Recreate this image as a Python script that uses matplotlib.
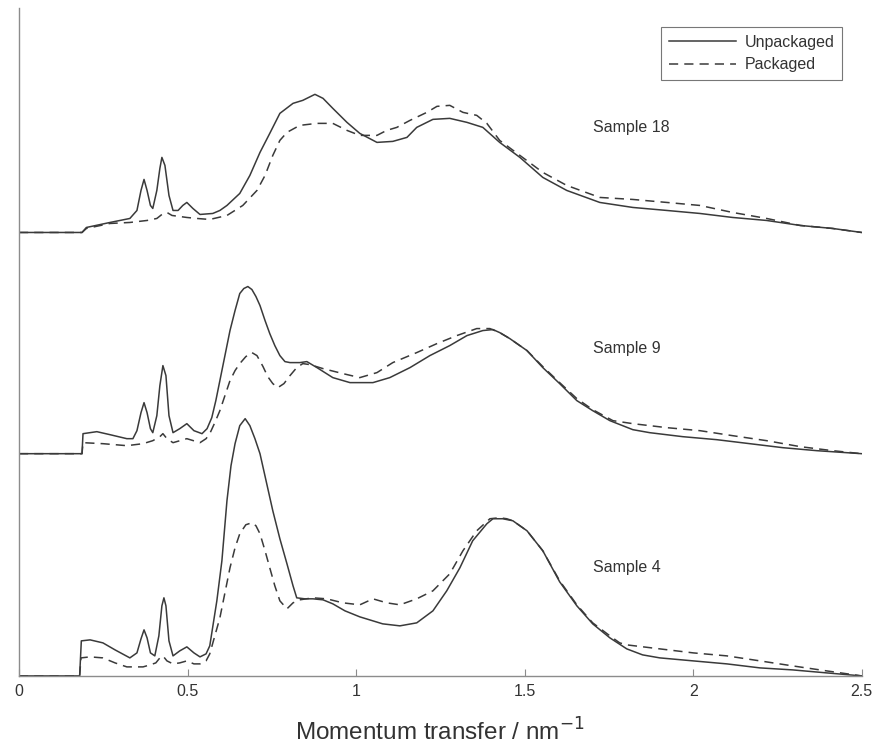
import matplotlib
matplotlib.use("Agg")
import matplotlib.pyplot as plt

plt.rcParams['font.family'] = ['Liberation Sans', 'DejaVu Sans']

# momentum transfer (nm^-1) and scattered intensity (a.u.) for each sample
s4_x_unpack = [0, 0.18, 0.185, 0.211, 0.249, 0.285, 0.329, 0.35, 0.362, 0.371, 0.38, 0.39, 0.403,
               0.415, 0.424, 0.43, 0.436, 0.445, 0.457, 0.477, 0.498, 0.519, 0.537, 0.555, 0.566,
               0.587, 0.602, 0.617, 0.629, 0.641, 0.655, 0.671, 0.685, 0.70, 0.715, 0.733, 0.753,
               0.774, 0.795, 0.813, 0.824, 0.848, 0.872, 0.902, 0.931, 0.967, 1.011, 1.079, 1.13,
               1.18, 1.228, 1.269, 1.308, 1.346, 1.388, 1.406, 1.435, 1.465, 1.507, 1.554, 1.604,
               1.655, 1.702, 1.753, 1.803, 1.85, 1.901, 2.0, 2.10, 2.198, 2.295, 2.396, 2.5]
s4_y_unpack = [0, 0, 0.35, 0.36, 0.33, 0.26, 0.18, 0.23, 0.37, 0.46, 0.38, 0.23, 0.20,
               0.40, 0.70, 0.78, 0.70, 0.35, 0.20, 0.25, 0.29, 0.23, 0.19, 0.22, 0.30,
               0.75, 1.15, 1.75, 2.10, 2.32, 2.50, 2.57, 2.50, 2.37, 2.22, 1.95, 1.65,
               1.37, 1.12, 0.90, 0.78, 0.77, 0.77, 0.76, 0.72, 0.65, 0.59, 0.52, 0.50,
               0.53, 0.65, 0.85, 1.08, 1.35, 1.52, 1.57, 1.57, 1.55, 1.45, 1.25, 0.94,
               0.70, 0.52, 0.38, 0.27, 0.21, 0.18, 0.15, 0.12, 0.08, 0.06, 0.03, 0]
s4_x_pack = [0, 0.18, 0.184, 0.211, 0.249, 0.285, 0.32, 0.368, 0.389, 0.406, 0.418, 0.427, 0.439,
             0.457, 0.477, 0.498, 0.519, 0.537, 0.555, 0.566, 0.581, 0.596, 0.611, 0.626, 0.641,
             0.655, 0.673, 0.691, 0.703, 0.715, 0.730, 0.744, 0.759, 0.774, 0.795, 0.813, 0.833,
             0.872, 0.913, 0.961, 1.011, 1.05, 1.091, 1.13, 1.18, 1.228, 1.278, 1.317, 1.358,
             1.397, 1.426, 1.447, 1.465, 1.507, 1.554, 1.604, 1.655, 1.702, 1.753, 1.782, 1.803,
             1.901, 2.0, 2.10, 2.198, 2.295, 2.396, 2.5]
s4_y_pack = [0, 0, 0.18, 0.19, 0.18, 0.13, 0.09, 0.09, 0.11, 0.13, 0.18, 0.20, 0.15,
             0.12, 0.13, 0.15, 0.12, 0.12, 0.15, 0.22, 0.40, 0.58, 0.83, 1.08, 1.28,
             1.42, 1.51, 1.53, 1.50, 1.42, 1.25, 1.08, 0.90, 0.75, 0.67, 0.73, 0.76,
             0.78, 0.77, 0.73, 0.71, 0.77, 0.73, 0.71, 0.77, 0.85, 1.02, 1.25, 1.45,
             1.57, 1.58, 1.57, 1.55, 1.45, 1.25, 0.95, 0.71, 0.53, 0.40, 0.33, 0.31,
             0.27, 0.23, 0.20, 0.15, 0.10, 0.05, 0]

s9_x_unpack = [0, 0.18, 0.187, 0.19, 0.231, 0.27, 0.32, 0.338, 0.35, 0.362, 0.371, 0.38, 0.39,
               0.397, 0.409, 0.418, 0.427, 0.436, 0.445, 0.457, 0.477, 0.498, 0.519, 0.543, 0.558,
               0.572, 0.584, 0.596, 0.611, 0.626, 0.641, 0.655, 0.667, 0.679, 0.691, 0.703, 0.715,
               0.730, 0.744, 0.759, 0.774, 0.789, 0.804, 0.833, 0.854, 0.884, 0.931, 0.982, 1.05,
               1.10, 1.16, 1.219, 1.278, 1.329, 1.376, 1.406, 1.426, 1.456, 1.507, 1.554, 1.604,
               1.655, 1.702, 1.753, 1.821, 1.871, 1.969, 2.07, 2.168, 2.266, 2.367, 2.5]
s9_y_unpack = [0, 0, 0, 0.20, 0.22, 0.19, 0.15, 0.15, 0.23, 0.41, 0.51, 0.41, 0.25,
               0.21, 0.38, 0.68, 0.88, 0.78, 0.38, 0.21, 0.25, 0.30, 0.23, 0.20, 0.25,
               0.36, 0.53, 0.73, 0.98, 1.23, 1.43, 1.60, 1.65, 1.67, 1.64, 1.57, 1.48,
               1.33, 1.20, 1.08, 0.98, 0.92, 0.91, 0.91, 0.92, 0.86, 0.76, 0.71, 0.71,
               0.76, 0.86, 0.98, 1.08, 1.18, 1.23, 1.24, 1.21, 1.15, 1.03, 0.86, 0.70,
               0.53, 0.43, 0.33, 0.24, 0.21, 0.17, 0.14, 0.10, 0.06, 0.03, 0]
s9_x_pack = [0, 0.18, 0.187, 0.19, 0.249, 0.32, 0.368, 0.397, 0.418, 0.427, 0.439, 0.457, 0.498,
             0.537, 0.555, 0.566, 0.581, 0.596, 0.611, 0.626, 0.641, 0.655, 0.673, 0.691, 0.706,
             0.724, 0.738, 0.753, 0.768, 0.786, 0.804, 0.824, 0.842, 0.863, 0.902, 0.961, 1.011,
             1.062, 1.109, 1.18, 1.24, 1.299, 1.358, 1.397, 1.426, 1.456, 1.507, 1.554, 1.604,
             1.655, 1.702, 1.762, 1.821, 1.922, 2.02, 2.117, 2.218, 2.318, 2.414, 2.5]
s9_y_pack = [0, 0, 0, 0.11, 0.10, 0.08, 0.10, 0.13, 0.17, 0.20, 0.15, 0.11, 0.15,
             0.11, 0.15, 0.20, 0.31, 0.43, 0.58, 0.73, 0.83, 0.90, 0.97, 1.01, 0.98,
             0.87, 0.77, 0.70, 0.66, 0.70, 0.78, 0.86, 0.90, 0.89, 0.85, 0.80, 0.76,
             0.81, 0.91, 1.01, 1.10, 1.18, 1.25, 1.25, 1.21, 1.15, 1.03, 0.87, 0.71,
             0.55, 0.44, 0.33, 0.30, 0.26, 0.23, 0.18, 0.13, 0.07, 0.03, 0]

s18_x_unpack = [0, 0.18, 0.187, 0.20, 0.27, 0.329, 0.35, 0.362, 0.371, 0.38, 0.39, 0.397, 0.409,
                0.418, 0.424, 0.433, 0.445, 0.457, 0.472, 0.486, 0.498, 0.516, 0.537, 0.575, 0.596,
                0.617, 0.655, 0.685, 0.715, 0.744, 0.774, 0.813, 0.842, 0.878, 0.902, 0.931, 0.973,
                1.011, 1.062, 1.109, 1.151, 1.18, 1.228, 1.278, 1.329, 1.376, 1.426, 1.486, 1.554,
                1.625, 1.723, 1.821, 1.922, 2.02, 2.117, 2.218, 2.318, 2.414, 2.5]
s18_y_unpack = [0, 0, 0, 0.05, 0.10, 0.14, 0.22, 0.42, 0.53, 0.42, 0.27, 0.24, 0.42,
                0.64, 0.75, 0.67, 0.37, 0.22, 0.22, 0.27, 0.30, 0.24, 0.18, 0.19, 0.22,
                0.27, 0.39, 0.57, 0.80, 0.99, 1.19, 1.29, 1.32, 1.38, 1.34, 1.24, 1.10,
                0.99, 0.90, 0.91, 0.95, 1.05, 1.13, 1.14, 1.10, 1.05, 0.90, 0.75, 0.55,
                0.42, 0.30, 0.25, 0.22, 0.19, 0.15, 0.12, 0.07, 0.04, 0]
s18_x_pack = [0, 0.18, 0.187, 0.20, 0.27, 0.329, 0.38, 0.409, 0.424, 0.439, 0.454, 0.498, 0.528,
              0.566, 0.617, 0.664, 0.706, 0.73, 0.753, 0.774, 0.795, 0.833, 0.884, 0.931, 0.973,
              1.011, 1.062, 1.091, 1.121, 1.16, 1.21, 1.24, 1.278, 1.317, 1.358, 1.388, 1.426,
              1.486, 1.554, 1.625, 1.723, 1.821, 1.922, 2.02, 2.117, 2.218, 2.318, 2.414, 2.5]
s18_y_pack = [0, 0, 0, 0.04, 0.09, 0.10, 0.12, 0.14, 0.18, 0.20, 0.17, 0.15, 0.14,
              0.13, 0.17, 0.27, 0.42, 0.57, 0.77, 0.92, 1.00, 1.07, 1.09, 1.09, 1.02,
              0.97, 0.97, 1.02, 1.05, 1.12, 1.20, 1.26, 1.27, 1.20, 1.17, 1.09, 0.92,
              0.77, 0.60, 0.47, 0.35, 0.33, 0.30, 0.27, 0.20, 0.14, 0.07, 0.04, 0]

sample_names = ['Sample 4', 'Sample 9', 'Sample 18']
offsets = [0, 2.22, 4.43]
label_pos = [(1.702, 1.08), (1.702, 3.27), (1.702, 5.48)]

curves = [
    (s4_x_unpack, s4_y_unpack, s4_x_pack, s4_y_pack),
    (s9_x_unpack, s9_y_unpack, s9_x_pack, s9_y_pack),
    (s18_x_unpack, s18_y_unpack, s18_x_pack, s18_y_pack),
]

line_col = '#3a3a3a'
axis_col = '#8c8c8c'

fig = plt.figure(figsize=(8.82, 7.51), dpi=100)
ax = fig.add_axes([0.0215, 0.1, 0.9555, 0.889])

for i, (xu, yu, xp, yp) in enumerate(curves):
    off = offsets[i]
    lu, = ax.plot(xu, [v + off for v in yu], color=line_col, lw=1.1)
    lp, = ax.plot(xp, [v + off for v in yp], color=line_col, lw=1.1, ls=(0, (6, 4)))
    ax.text(label_pos[i][0], label_pos[i][1], sample_names[i], fontsize=11.5,
            color='#333333', va='center', ha='left')
    if i == 0:
        lu.set_label('Unpackaged')
        lp.set_label('Packaged')

ax.set_xlim(0, 2.5)
ax.set_ylim(0, 6.67)
ax.set_xticks([0, 0.5, 1, 1.5, 2, 2.5])
ax.set_xticklabels(['0', '0.5', '1', '1.5', '2', '2.5'])
ax.set_yticks([])
ax.tick_params(axis='x', direction='in', length=5, width=0.8, color=axis_col,
               labelsize=11.5, labelcolor='#333333', pad=6)
for side in ['top', 'right']:
    ax.spines[side].set_visible(False)
for side in ['left', 'bottom']:
    ax.spines[side].set_color(axis_col)
    ax.spines[side].set_linewidth(1.0)

ax.set_xlabel('Momentum transfer / nm$^{-1}$', fontsize=17.5, color='#333333', labelpad=14)

leg = ax.legend(loc='upper right', bbox_to_anchor=(0.977, 0.972), borderaxespad=0,
                fontsize=11.5, frameon=True, fancybox=False, handlelength=4.2,
                handletextpad=0.5, labelspacing=0.45, borderpad=0.5)
leg.get_frame().set_edgecolor('#555555')
leg.get_frame().set_linewidth(0.8)
for t in leg.get_texts():
    t.set_color('#333333')

fig.savefig('out.png', dpi=100)
